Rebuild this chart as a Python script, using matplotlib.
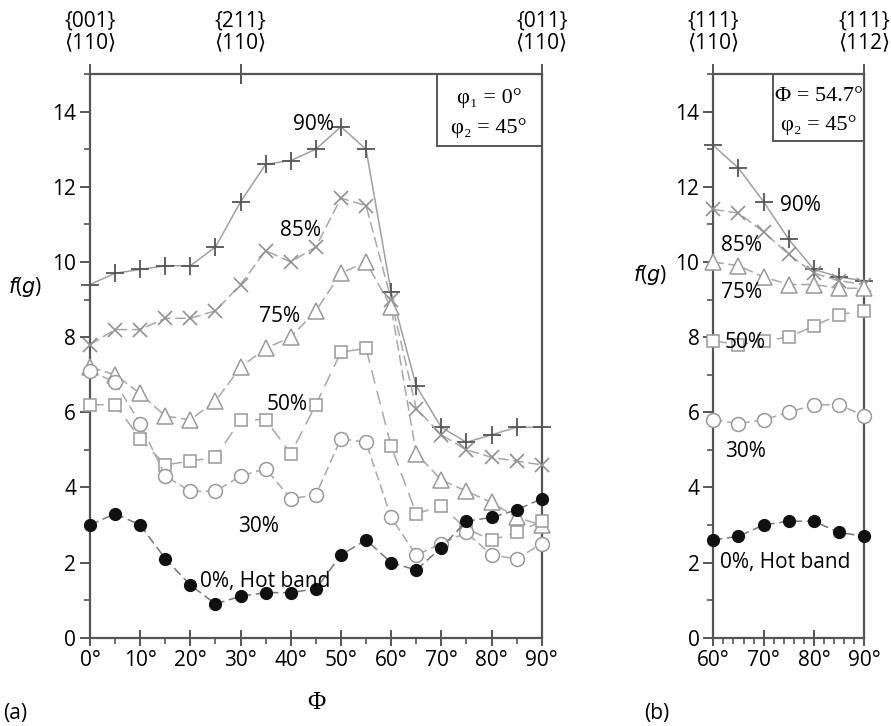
import numpy as np
import matplotlib
matplotlib.use('Agg')
import matplotlib.pyplot as plt
from matplotlib.patches import Rectangle
from matplotlib.ticker import MultipleLocator

plt.rcParams['font.family'] = ['Open Sans', 'DejaVu Sans']

# (a) phi1 = 0, phi2 = 45 section, x = Phi
phi_a = [0, 5, 10, 15, 20, 25, 30, 35, 40, 45, 50, 55, 60, 65, 70, 75, 80, 85, 90]
a_90 = [9.4, 9.7, 9.8, 9.9, 9.9, 10.4, 11.6, 12.6, 12.7, 13.0, 13.6, 13.0, 9.2, 6.7, 5.6, 5.2, 5.4, 5.6, 5.6]
a_85 = [7.8, 8.2, 8.2, 8.5, 8.5, 8.7, 9.4, 10.3, 10.0, 10.4, 11.7, 11.5, 9.0, 6.1, 5.4, 5.0, 4.8, 4.7, 4.6]
a_75 = [7.2, 7.0, 6.5, 5.9, 5.8, 6.3, 7.2, 7.7, 8.0, 8.7, 9.7, 10.0, 8.8, 4.9, 4.2, 3.9, 3.6, 3.2, 3.0]
a_50 = [6.2, 6.2, 5.3, 4.6, 4.7, 4.8, 5.8, 5.8, 4.9, 6.2, 7.6, 7.7, 5.1, 3.3, 3.5, 2.9, 2.6, 2.8, 3.1]
a_30 = [7.1, 6.8, 5.7, 4.3, 3.9, 3.9, 4.3, 4.5, 3.7, 3.8, 5.3, 5.2, 3.2, 2.2, 2.5, 2.8, 2.2, 2.1, 2.5]
a_0 = [3.0, 3.3, 3.0, 2.1, 1.4, 0.9, 1.1, 1.2, 1.2, 1.3, 2.2, 2.6, 2.0, 1.8, 2.4, 3.1, 3.2, 3.4, 3.7]

# (b) Phi = 54.7, phi2 = 45 section, x = phi1
phi_b = [60, 65, 70, 75, 80, 85, 90]
b_90 = [13.1, 12.5, 11.6, 10.6, 9.8, 9.6, 9.5]
b_85 = [11.4, 11.3, 10.8, 10.2, 9.7, 9.5, 9.4]
b_75 = [10.0, 9.9, 9.6, 9.4, 9.4, 9.3, 9.3]
b_50 = [7.9, 7.8, 7.9, 8.0, 8.3, 8.6, 8.7]
b_30 = [5.8, 5.7, 5.8, 6.0, 6.2, 6.2, 5.9]
b_0 = [2.6, 2.7, 3.0, 3.1, 3.1, 2.8, 2.7]

top_a_ticks = [0, 30, 90]
top_a_labels = ['{001}\n\u27e8110\u27e9', '{211}\n\u27e8110\u27e9', '{011}\n\u27e8110\u27e9']
top_b_ticks = [60, 90]
top_b_labels = ['{111}\n\u27e8110\u27e9', '{111}\n\u27e8112\u27e9']

styles = [
    dict(marker='+', ms=13, mew=1.3, color='#a0a0a0', mec='#555555', mfc='none', ls='-', lw=1.1),
    dict(marker='x', ms=10, mew=1.2, color='#a8a8a8', mec='#909090', mfc='none', ls=(0, (7, 3)), lw=1.1),
    dict(marker='^', ms=11, mew=1.1, color='#a8a8a8', mec='#999999', mfc='white', ls=(0, (7, 3)), lw=1.1),
    dict(marker='s', ms=9, mew=1.1, color='#a8a8a8', mec='#999999', mfc='white', ls=(0, (9, 5)), lw=1.1),
    dict(marker='o', ms=10, mew=1.1, color='#a8a8a8', mec='#999999', mfc='white', ls=(0, (6, 3)), lw=1.1),
    dict(marker='o', ms=8.5, mew=1.0, color='#777777', mec='#111111', mfc='#111111', ls=(0, (6, 3)), lw=1.1),
]

fig = plt.figure(figsize=(8.91, 7.26), dpi=100)
ax1 = fig.add_axes([90 / 891, 1 - 637.7 / 726, 451.7 / 891, 563.6 / 726])
ax2 = fig.add_axes([713.3 / 891, 1 - 637.7 / 726, 151 / 891, 563.6 / 726])

spine_col = '#555555'
fs = 15

def setup(ax, xlim, major, minor, top_ticks, top_labels):
    ax.set_xlim(*xlim)
    ax.set_ylim(0, 15)
    for s in ax.spines.values():
        s.set_color(spine_col)
        s.set_linewidth(1.6)
    ax.xaxis.set_major_locator(MultipleLocator(major))
    ax.xaxis.set_minor_locator(MultipleLocator(minor))
    ax.yaxis.set_major_locator(MultipleLocator(2))
    ax.yaxis.set_minor_locator(MultipleLocator(1))
    ax.tick_params(axis='both', which='major', direction='out', length=7, width=1.4,
                   color=spine_col, labelsize=fs, pad=3)
    ax.tick_params(axis='both', which='minor', direction='out', length=4, width=1.2,
                   color=spine_col)
    ax.tick_params(axis='x', which='major', direction='inout', length=12)
    ax.set_xticklabels([f'{int(t)}\u00b0' for t in ax.get_xticks()])
    sec = ax.secondary_xaxis('top')
    sec.set_xticks(top_ticks, labels=top_labels)
    sec.tick_params(direction='inout', length=14, width=1.4, color=spine_col,
                    labelsize=fs, pad=8)
    sec.spines['top'].set_visible(False)
    for lab in sec.get_xticklabels():
        lab.set_linespacing(1.05)

setup(ax1, (0, 90), 10, 5, top_a_ticks, top_a_labels)
setup(ax2, (60, 90), 10, 2, top_b_ticks, top_b_labels)

for ys, st in zip([a_90, a_85, a_75, a_50, a_30, a_0], styles):
    ax1.plot(phi_a, ys, clip_on=False, zorder=3, **st)
for ys, st in zip([b_90, b_85, b_75, b_50, b_30, b_0], styles):
    ax2.plot(phi_b, ys, clip_on=False, zorder=3, **st)

# curve labels
lab_kw = dict(fontsize=fs, color='black', zorder=5)
ax1.text(48.5, 13.65, '90%', ha='right', va='center', **lab_kw)
ax1.text(42.0, 10.85, '85%', ha='center', va='center', **lab_kw)
ax1.text(37.8, 8.55, '75%', ha='center', va='center', **lab_kw)
ax1.text(39.2, 6.2, '50%', ha='center', va='center', **lab_kw)
ax1.text(33.5, 2.95, '30%', ha='center', va='center', **lab_kw)
ax1.text(35.0, 1.5, '0%, Hot band', ha='center', va='center', **lab_kw)

ax2.text(77.3, 11.5, '90%', ha='center', va='center', **lab_kw)
ax2.text(65.6, 10.45, '85%', ha='center', va='center', **lab_kw)
ax2.text(65.6, 9.2, '75%', ha='center', va='center', **lab_kw)
ax2.text(66.3, 7.85, '50%', ha='center', va='center', **lab_kw)
ax2.text(66.3, 4.95, '30%', ha='center', va='center', **lab_kw)
ax2.text(74.3, 2.0, '0%, Hot band', ha='center', va='center', **lab_kw)

# parameter boxes
serif = ['Liberation Serif', 'DejaVu Serif']
ax1.add_patch(Rectangle((0.768, 0.8724), 0.232, 0.1276, transform=ax1.transAxes,
                        fill=False, ec=spine_col, lw=1.4, clip_on=False))
ax1.text(0.884, 0.957, '\u03c6\u2081 = 0\u00b0', transform=ax1.transAxes, ha='center',
         va='center', fontsize=16, family=serif)
ax1.text(0.884, 0.905, '\u03c6\u2082 = 45\u00b0', transform=ax1.transAxes, ha='center',
         va='center', fontsize=16, family=serif)

ax2.add_patch(Rectangle((0.395, 0.881), 0.605, 0.119, transform=ax2.transAxes,
                        fill=False, ec=spine_col, lw=1.4, clip_on=False))
ax2.text(0.70, 0.96, '\u03a6 = 54.7\u00b0', transform=ax2.transAxes, ha='center',
         va='center', fontsize=16, family=serif)
ax2.text(0.70, 0.91, '\u03c6\u2082 = 45\u00b0', transform=ax2.transAxes, ha='center',
         va='center', fontsize=16, family=serif)

# axis titles and panel letters
fig.text(25 / 891, 1 - 287 / 726, '$f$($g$)', fontsize=fs, ha='center', va='center')
fig.text(650 / 891, 1 - 275 / 726, '$f$($g$)', fontsize=fs, ha='center', va='center')
fig.text(316 / 891, 1 - 703 / 726, '\u03a6', fontsize=18, ha='center', va='center', family=serif)
fig.text(15 / 891, 1 - 713 / 726, '(a)', fontsize=fs, ha='center', va='center')
fig.text(657 / 891, 1 - 713 / 726, '(b)', fontsize=fs, ha='center', va='center')

fig.savefig('out.png', dpi=100)
